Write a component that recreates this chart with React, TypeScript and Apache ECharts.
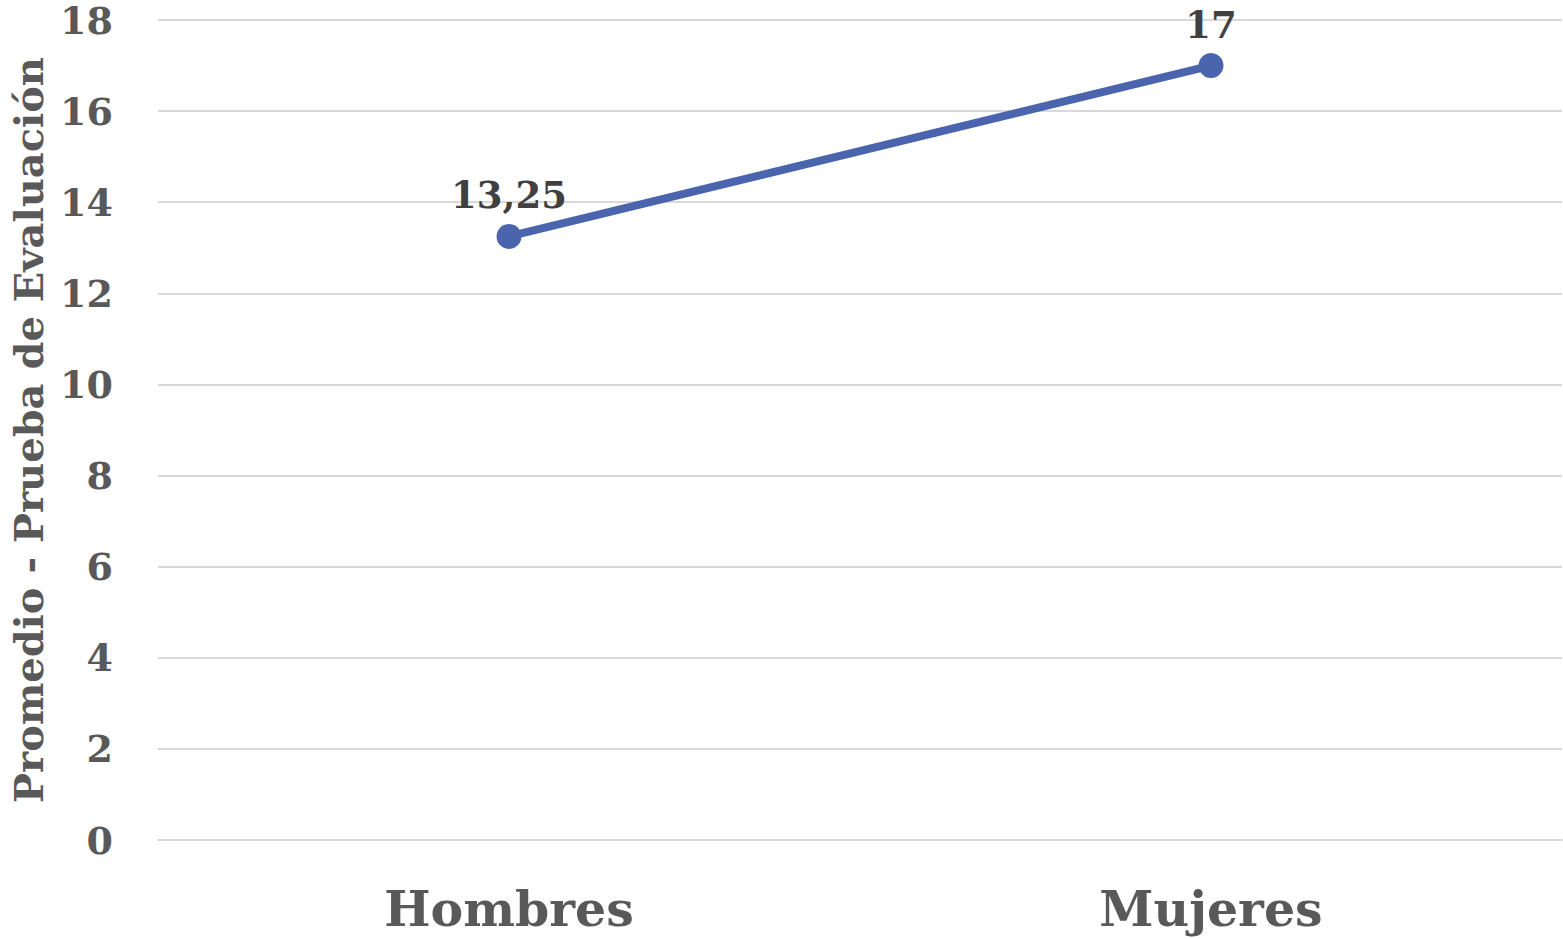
import React, { useEffect, useRef } from "react";
import * as echarts from "echarts";

const categories = ["Hombres", "Mujeres"];
const promedio = [13.25, 17];
const yTicks = { min: 0, max: 18, interval: 2 };

const FONT = "'DejaVu Serif', serif";

export default function App() {
  const ref = useRef<HTMLDivElement>(null);
  useEffect(() => {
    const chart = echarts.init(ref.current!, null, { renderer: "svg" });
    chart.setOption({
      animation: false,
      backgroundColor: "#ffffff",
      grid: { left: 146, right: 1, top: 20, bottom: 99, containLabel: false },
      xAxis: {
        type: "category",
        data: categories,
        axisLine: { show: true, lineStyle: { color: "#d9d9d9", width: 2 } },
        axisTick: { show: false },
        axisLabel: {
          color: "#595959",
          fontFamily: FONT,
          fontWeight: "bold",
          fontSize: 49,
          margin: 44,
        },
      },
      yAxis: {
        type: "value",
        min: yTicks.min,
        max: yTicks.max,
        interval: yTicks.interval,
        name: "Promedio - Prueba de Evaluación",
        nameLocation: "middle",
        nameGap: 110,
        nameTextStyle: {
          color: "#595959",
          fontFamily: FONT,
          fontWeight: "bold",
          fontSize: 40,
        },
        axisLine: { show: false },
        axisTick: { show: false },
        splitLine: { lineStyle: { color: "#d9d9d9", width: 2 } },
        axisLabel: {
          color: "#595959",
          fontFamily: FONT,
          fontWeight: "bold",
          fontSize: 38,
          margin: 45,
        },
      },
      series: [
        {
          type: "line",
          data: promedio,
          symbol: "circle",
          symbolSize: 25,
          itemStyle: { color: "#4a64ad" },
          lineStyle: { color: "#4a64ad", width: 8 },
          label: {
            show: true,
            position: "top",
            distance: 10,
            color: "#404040",
            fontFamily: FONT,
            fontWeight: "bold",
            fontSize: 37,
            formatter: (p: any) => String(p.value).replace(".", ","),
          },
        },
      ],
    });
    return () => chart.dispose();
  }, []);
  return (
    <div
      ref={ref}
      style={{ position: "fixed", left: 0, top: 0, width: 1563, height: 939 }}
    />
  );
}
